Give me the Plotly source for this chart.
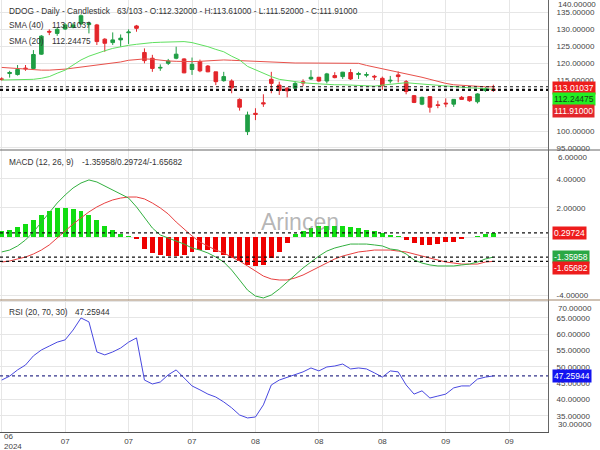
import plotly.graph_objects as go

# ---------------- data ----------------
idx = list(range(63))
opens = [115.3,116.9,116.6,118.5,118.4,122.6,129.3,128.7,130.0,130.5,131.5,131.3,131.2,127.0,126.0,126.8,128.9,130.9,123.1,121.4,
         118.5,119.9,121.4,121.2,118.1,120.4,119.1,117.4,114.8,114.7,109.3,99.8,105.2,108.3,115.2,113.5,112.6,112.6,114.5,115.3,
         115.8,114.7,116.3,116.0,117.2,116.6,116.4,116.1,115.5,114.7,116.5,114.5,110.4,107.9,110.1,107.7,108.2,107.9,109.9,110.1,
         108.6,111.9,112.32]
highs = [115.8,117.7,119.4,119.4,123.8,128.2,129.9,130.5,131.7,131.7,134.3,132.2,131.5,127.3,129.0,128.4,129.9,131.2,124.3,122.4,
         119.6,121.2,124.8,121.4,121.6,121.0,119.4,117.4,117.4,115.2,109.6,105.7,106.7,110.8,117.4,114.5,112.9,114.7,115.2,117.9,
         115.9,117.1,117.3,117.4,118.2,117.4,117.3,116.5,116.0,116.2,117.5,115.0,110.6,110.1,110.3,108.9,109.6,109.4,110.3,110.2,
         111.1,112.9,113.61]
lows = [114.8,115.7,116.3,117.7,118.1,122.4,128.2,128.0,129.7,130.2,131.2,128.7,125.3,123.3,125.3,124.8,125.6,129.2,119.9,117.4,
        117.7,119.4,121.1,117.0,116.5,117.3,117.3,113.5,114.5,111.1,106.0,98.8,103.2,107.1,111.1,110.6,109.9,112.3,113.2,115.0,
        114.5,114.0,115.5,115.3,115.0,115.3,115.8,115.0,112.1,114.0,114.3,110.8,108.2,107.6,105.4,106.7,107.0,107.1,109.2,108.6,
        108.1,111.5,111.52]
closes = [115.2,117.2,118.1,118.3,122.5,127.9,129.1,129.9,131.2,131.2,133.9,131.7,126.3,125.8,126.8,127.3,129.1,130.2,120.7,118.4,
          118.7,120.6,122.6,117.1,119.6,117.7,117.4,114.5,116.0,112.7,107.0,104.7,104.9,108.0,114.0,111.9,111.8,114.0,114.1,115.8,
          114.7,116.8,115.7,117.3,115.3,116.9,116.6,115.9,113.3,114.9,116.0,111.6,108.4,109.9,107.0,107.5,108.0,109.3,109.3,108.9,
          110.9,112.4,111.91]
sma20 = [115.0,115.0,115.0,115.1,115.2,115.5,116.0,117.0,117.9,119.4,120.9,122.0,122.9,123.6,124.3,124.8,125.2,125.5,125.8,126.0,
         126.1,126.2,126.3,126.3,126.0,125.5,124.8,124.0,123.3,122.0,120.9,119.0,118.0,116.8,116.0,115.2,114.8,114.4,114.2,114.0,
         113.8,113.7,113.6,113.6,113.5,113.5,113.4,113.2,113.5,113.8,114.1,114.2,114.0,113.8,113.5,113.3,113.1,113.0,112.9,112.7,
         112.6,112.4,112.24475]
sma40 = [118.7,118.5,118.4,118.2,117.9,117.9,117.9,118.0,118.2,118.5,118.8,119.1,119.4,119.6,119.9,120.3,120.8,121.0,121.2,121.1,
         120.8,120.6,120.5,120.4,120.4,120.5,120.7,120.8,120.9,120.8,120.7,120.5,120.3,120.2,120.2,120.1,120.1,120.0,120.0,120.0,
         119.9,119.9,120.0,120.1,120.0,119.9,119.3,118.8,118.3,117.9,117.4,117.0,116.4,115.8,115.2,114.5,114.0,113.6,113.4,113.2,
         113.1,113.0,113.01037]
macd = [-1.01,-0.88,-0.60,-0.19,0.36,1.04,1.73,2.34,2.89,3.37,3.71,3.92,3.78,3.51,3.23,2.96,2.68,2.07,1.32,0.63,
        0.15,-0.05,-0.26,-0.47,-0.74,-0.88,-1.08,-1.36,-1.70,-2.25,-2.93,-3.62,-4.03,-4.16,-3.96,-3.55,-3.07,-2.59,-2.11,-1.70,
        -1.29,-0.95,-0.74,-0.60,-0.47,-0.47,-0.47,-0.53,-0.60,-0.81,-0.88,-1.15,-1.56,-1.77,-1.90,-1.97,-1.97,-1.97,-1.90,-1.84,
        -1.70,-1.49,-1.35958]
signal = [-1.70,-1.63,-1.49,-1.36,-1.15,-0.88,-0.53,-0.05,0.42,0.90,1.32,1.73,2.07,2.34,2.55,2.68,2.75,2.75,2.62,2.34,
          2.00,1.59,1.04,0.56,0.08,-0.33,-0.60,-0.88,-1.08,-1.36,-1.63,-1.97,-2.32,-2.66,-2.86,-2.93,-2.93,-2.79,-2.59,-2.32,
          -2.04,-1.77,-1.49,-1.29,-1.15,-1.01,-0.95,-0.88,-0.88,-0.88,-0.95,-1.01,-1.15,-1.29,-1.42,-1.56,-1.70,-1.77,-1.84,-1.84,
          -1.84,-1.70,-1.65682]
hist = [0.4,0.5,0.7,0.9,1.2,1.5,1.8,2.0,2.0,1.9,1.8,1.5,1.2,0.8,0.5,0.2,0.05,-0.1,-0.8,-1.1,
        -1.2,-1.3,-1.3,-1.2,-1.0,-0.9,-0.9,-1.0,-1.2,-1.4,-1.6,-1.9,-2.0,-1.9,-1.4,-1.0,-0.4,0.2,0.4,0.6,
        0.75,0.8,0.8,0.75,0.7,0.6,0.5,0.4,0.3,0.15,0.1,-0.2,-0.4,-0.5,-0.5,-0.45,-0.35,-0.3,-0.1,0.02,
        0.1,0.25,0.29724]
rsi = [46.0,47.2,49.1,50.6,53.4,55.2,56.4,57.6,58.3,61.3,65.0,63.8,54.6,53.7,54.6,55.8,57.6,58.9,46.0,44.8,
       45.4,47.6,49.1,46.6,44.2,43.0,41.7,40.8,39.3,37.5,35.3,34.4,34.7,38.4,44.5,46.0,46.9,47.6,48.5,49.7,
       48.8,50.0,50.3,50.9,49.4,49.7,49.4,48.2,46.9,48.8,48.5,44.5,41.7,42.7,40.5,41.1,41.7,43.6,44.2,44.2,
       46.3,46.9,47.25944]

x_tick_idx = [0, 8, 16, 24, 32, 40, 48, 56, 64]
x_tick_text = ["06", "07", "07", "07", "08", "08", "08", "09", "09"]
price_ticks = [95, 100, 105, 110, 115, 120, 125, 130, 135, 140]
macd_ticks = [-4, -2, 0, 2, 4, 6]
rsi_ticks = [30, 35, 40, 45, 50, 55, 60, 65, 70]

# ---------------- layout helpers ----------------
W, H = 600, 450
PL, PR, PB = 0, 548, 432
def py(px):
    return 1 - px / PB
def pxx(px):
    return px / PR

GREEN = "#1f9e44"
RED = "#e3262b"
FONT = "Liberation Sans, Arial, sans-serif"
TXT = "#333333"

fig = go.Figure()

fig.add_trace(go.Candlestick(
    x=idx, open=opens, high=highs, low=lows, close=closes,
    increasing=dict(line=dict(color=GREEN, width=1), fillcolor=GREEN),
    decreasing=dict(line=dict(color=RED, width=1), fillcolor=RED),
    whiskerwidth=0, xaxis="x", yaxis="y", showlegend=False, hoverinfo="skip"))
fig.add_trace(go.Scatter(x=idx, y=sma40, mode="lines", line=dict(color="#e8504a", width=1),
                         xaxis="x", yaxis="y", showlegend=False, hoverinfo="skip"))
fig.add_trace(go.Scatter(x=idx, y=sma20, mode="lines", line=dict(color="#5fe05f", width=1),
                         xaxis="x", yaxis="y", showlegend=False, hoverinfo="skip"))

hist_colors = ["#11dd11" if v >= 0 else "#ee0000" for v in hist]
fig.add_trace(go.Bar(x=idx, y=hist, marker=dict(color=hist_colors, line=dict(width=0)), width=0.62,
                     xaxis="x2", yaxis="y2", showlegend=False, hoverinfo="skip"))
fig.add_trace(go.Scatter(x=idx, y=signal, mode="lines", line=dict(color="#e84040", width=1),
                         xaxis="x2", yaxis="y2", showlegend=False, hoverinfo="skip"))
fig.add_trace(go.Scatter(x=idx, y=macd, mode="lines", line=dict(color="#33b040", width=1),
                         xaxis="x2", yaxis="y2", showlegend=False, hoverinfo="skip"))

fig.add_trace(go.Scatter(x=idx, y=rsi, mode="lines", line=dict(color="#4848e0", width=1),
                         xaxis="x3", yaxis="y3", showlegend=False, hoverinfo="skip"))

xr = [-0.214, 68.89]
grid = "#e6e6e6"
common_x = dict(range=xr, tickmode="array", tickvals=x_tick_idx, showgrid=True, gridcolor=grid,
                zeroline=False, showline=False, fixedrange=True)
yaxis_common = dict(side="right", showgrid=True, gridcolor=grid, zeroline=False,
                    showline=True, linecolor="#666666", linewidth=1, fixedrange=True,
                    ticks="outside", ticklen=6, tickcolor="rgba(0,0,0,0)",
                    tickfont=dict(family=FONT, size=8, color="#444444"), tickmode="array")

d1 = [py(150), 1]
d2 = [py(300), py(150)]
d3 = [0, py(300)]

price_text = ["" if v in (105, 110, 140) else f"{v:.5f}" for v in price_ticks]
macd_text = ["" if v in (0, -2, 6) else f"{v:.5f}" for v in macd_ticks]
rsi_text = ["" if v in (30, 70) else f"{v:.5f}" for v in rsi_ticks]

fig.update_layout(
    width=W, height=H, margin=dict(l=0, r=W - PR, t=0, b=H - PB),
    paper_bgcolor="white", plot_bgcolor="white", showlegend=False, bargap=0,
    font=dict(family=FONT, size=8.3, color=TXT),
    xaxis=dict(common_x, anchor="y", domain=[0, 1], showticklabels=False, rangeslider=dict(visible=False)),
    xaxis2=dict(common_x, anchor="y2", domain=[0, 1], showticklabels=False, matches="x"),
    xaxis3=dict(common_x, anchor="y3", domain=[0, 1], showticklabels=True, matches="x",
                ticktext=[""] + x_tick_text[1:], showline=True, linecolor="#555555",
                ticks="outside", ticklen=1, tickcolor="rgba(0,0,0,0)",
                tickfont=dict(family=FONT, size=8, color="#444444")),
    yaxis=dict(yaxis_common, domain=d1, range=[94.41, 138.53], tickvals=price_ticks, ticktext=price_text),
    yaxis2=dict(yaxis_common, domain=d2, range=[-4.3, 5.97], tickvals=macd_ticks, ticktext=macd_text),
    yaxis3=dict(yaxis_common, domain=d3, range=[30.1, 70.5], tickvals=rsi_ticks, ticktext=rsi_text),
)

shapes = []
# panel separators
shapes.append(dict(type="line", xref="paper", yref="paper", x0=0, x1=W / PR, y0=py(150), y1=py(150),
                   line=dict(color="#666666", width=1)))
shapes.append(dict(type="line", xref="paper", yref="paper", x0=0, x1=W / PR, y0=py(300), y1=py(300),
                   line=dict(color="#a08469", width=1.2)))
# dotted last-value lines
for val, yr in [(sma40[-1], "y"), (sma20[-1], "y"), (closes[-1], "y"),
                (hist[-1], "y2"), (macd[-1], "y2"), (signal[-1], "y2")]:
    shapes.append(dict(type="line", xref="paper", yref=yr, x0=0, x1=1, y0=val, y1=val,
                       line=dict(color="#111111", width=1.2, dash="dot")))
shapes.append(dict(type="line", xref="paper", yref="y3", x0=0, x1=1, y0=rsi[-1], y1=rsi[-1],
                   line=dict(color="#33338a", width=1.2, dash="dot")))
fig.update_layout(shapes=shapes)

ann = []
def text(x_px, y_px, s, size=8.3, color=TXT, xanchor="left"):
    ann.append(dict(x=pxx(x_px), y=py(y_px), xref="paper", yref="paper", text=s, showarrow=False,
                    xanchor=xanchor, yanchor="middle", font=dict(family=FONT, size=size, color=color)))

text(7, 10.5, "DDOG - Daily - Candlestick")
text(115, 10.5, f"63/103 - O:{opens[-1]:.5f} - H:{highs[-1]:.5f} - L:{lows[-1]:.5f} - C:{closes[-1]:.5f}")
text(7, 25, "SMA (40)")
text(50, 25, f"{sma40[-1]:.5f}")
text(7, 40.5, "SMA (20)")
text(50, 40.5, f"{sma20[-1]:.5f}")
text(7, 161.5, "MACD (12, 26, 9)")
text(80, 161.5, f"{macd[-1]:.5f}/{hist[-1]:.5f}/{signal[-1]:.5f}")
text(7, 311.5, "RSI (20, 70, 30)")
text(73, 311.5, f"{rsi[-1]:.5f}")

# clamped edge axis labels
text(556, 4.5, f"{price_ticks[-1]:.5f}", size=8, color="#444444")
text(556, 157, f"{macd_ticks[-1]:.5f}", size=8, color="#444444")
text(556, 308, f"{rsi_ticks[-1]:.5f}", size=8, color="#444444")
text(556, 424, f"{rsi_ticks[0]:.5f}", size=8, color="#444444")
# first x label (clamped to left edge)
ann.append(dict(x=0.004, y=py(441.5), xref="paper", yref="paper", text="06<br>2024", showarrow=False,
                xanchor="left", yanchor="middle", align="left",
                font=dict(family=FONT, size=8, color="#444444")))

# watermark
ann.append(dict(x=pxx(300), y=py(222), xref="paper", yref="paper", text="Arincen", showarrow=False,
                font=dict(family=FONT, size=23, color="rgba(120,120,120,0.55)")))

# value boxes on right axis
def box(val, yr, ypx_shift, bg, fg):
    ann.append(dict(x=pxx(552), y=val, xref="paper", yref=yr, text=f"{val:.5f}", showarrow=False,
                    xanchor="left", yanchor="middle", yshift=ypx_shift, bgcolor=bg, borderpad=1,
                    font=dict(family=FONT, size=8.5, color=fg)))

box(sma40[-1], "y", -1.5, "#ee1c1c", "white")
box(sma20[-1], "y", -10, "#22ee22", "#1a3a1a")
box(closes[-1], "y", -20, "#e3262b", "white")
box(hist[-1], "y2", 0, "#ee1c1c", "white")
box(macd[-1], "y2", 0, "#2aa845", "white")
box(signal[-1], "y2", -7, "#ee1c1c", "white")
box(rsi[-1], "y3", 0, "#1414f0", "white")

fig.update_layout(annotations=ann, boxgap=0.35)
fig.write_html("out.html", config={"displayModeBar": False, "staticPlot": True},
               post_script="document.body.style.margin='0px';")
